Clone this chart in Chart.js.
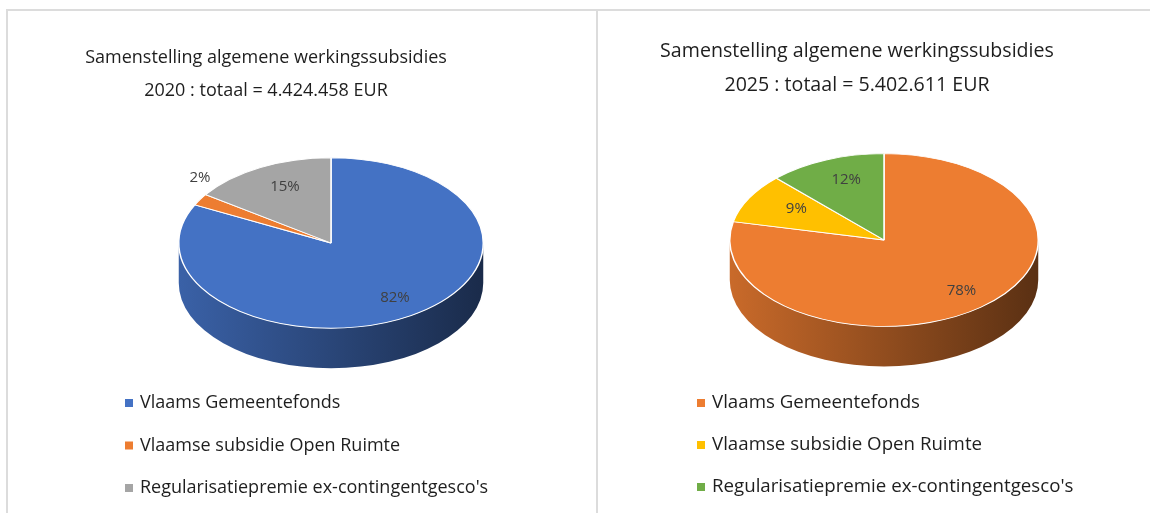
<!DOCTYPE html>
<html>
<head>
<meta charset="utf-8">
<script src="https://cdn.jsdelivr.net/npm/chart.js@4.4.1/dist/chart.umd.min.js"></script>
<style>
  body { margin: 0; background: #fff; width: 1150px; height: 513px; overflow: hidden; position: relative; }
  .panel { position: absolute; top: 9px; bottom: 0; border-top: 2px solid #dcdcdc; border-left: 2px solid #dcdcdc; }
  #p1 { left: 6px; width: 589px; }
  #p2 { left: 596px; right: 0; }
  canvas { position: absolute; left: 0; top: 0; }
</style>
</head>
<body>
<div class="panel" id="p1"><canvas id="chart2020" width="589" height="502"></canvas></div>
<div class="panel" id="p2"><canvas id="chart2025" width="552" height="502"></canvas></div>
<script>
var categories = ['Vlaams Gemeentefonds', 'Vlaamse subsidie Open Ruimte', "Regularisatiepremie ex-contingentgesco's"];
var values2020 = [3645753, 97338, 681367];
var values2025 = [4235647, 502443, 664521];
var colors2020 = ['#4472C4', '#ED7D31', '#A5A5A5'];
var colors2025 = ['#ED7D31', '#FFC000', '#70AD47'];
var titleText = 'Samenstelling algemene werkingssubsidies';

var squash = 0.56;   // vertical flattening of the pie
var depth = 40;      // height of the pie side

function sum(arr) { return arr.reduce((a, b) => a + b, 0); }
function formatEUR(n) { return String(n).replace(/\B(?=(\d{3})+(?!\d))/g, '.'); }

function shade(hex, f) {
  var n = parseInt(hex.slice(1), 16);
  var r = Math.round(((n >> 16) & 255) * f);
  var g = Math.round(((n >> 8) & 255) * f);
  var b = Math.round((n & 255) * f);
  return 'rgb(' + r + ',' + g + ',' + b + ')';
}

// fake 3d: draw the side, squash the pie, then put the texts on top
var pie3d = {
  id: 'pie3d',
  beforeDatasetsDraw(chart) {
    var ctx = chart.ctx;
    var arcs = chart.getDatasetMeta(0).data;
    var colors = chart.data.datasets[0].backgroundColor;
    ctx.save();
    arcs.forEach((arc, i) => {
      var p = arc.getProps(['x', 'y', 'startAngle', 'endAngle', 'outerRadius'], true);
      var a0 = Math.max(p.startAngle, 0), a1 = Math.min(p.endAngle, Math.PI);
      if (a1 <= a0) return;
      var rx = p.outerRadius, ry = rx * squash;
      var grad = ctx.createLinearGradient(p.x - rx, 0, p.x + rx, 0);
      grad.addColorStop(0, shade(colors[i], 0.85));
      grad.addColorStop(1, shade(colors[i], 0.38));
      ctx.beginPath();
      ctx.ellipse(p.x, p.y, rx, ry, 0, a0, a1);
      ctx.ellipse(p.x, p.y + depth, rx, ry, 0, a1, a0, true);
      ctx.closePath();
      ctx.fillStyle = grad;
      ctx.fill();
    });
    ctx.restore();
    var c = arcs[0];
    ctx.save();
    ctx.translate(c.x, c.y);
    ctx.scale(1, squash);
    ctx.translate(-c.x, -c.y);
  },
  afterDatasetsDraw(chart) {
    var ctx = chart.ctx;
    ctx.restore();
    var arcs = chart.getDatasetMeta(0).data;
    var vals = chart.data.datasets[0].data;
    var total = sum(vals);
    ctx.save();
    ctx.font = '15px "Open Sans"';
    ctx.fillStyle = '#404040';
    ctx.textAlign = 'center';
    ctx.textBaseline = 'middle';
    arcs.forEach((arc, i) => {
      var p = arc.getProps(['x', 'y', 'startAngle', 'endAngle', 'outerRadius'], true);
      var m = (p.startAngle + p.endAngle) / 2;
      var pct = Math.round(vals[i] / total * 100);
      var x, y;
      if (pct < 5) {
        x = p.x + Math.cos(m) * p.outerRadius;
        y = p.y + Math.sin(m) * p.outerRadius * squash - 22;
      } else {
        // the back half looks smaller in the original perspective
        var f = Math.sin(m) < 0 ? 0.65 : 0.8;
        x = p.x + Math.cos(m) * p.outerRadius * f;
        y = p.y + Math.sin(m) * p.outerRadius * squash * 0.75;
      }
      ctx.fillText(pct + '%', x, y);
    });
    ctx.restore();
  },
  afterDraw(chart, args, opts) {
    var ctx = chart.ctx;
    ctx.save();
    ctx.fillStyle = '#1e1e1e';
    ctx.textAlign = 'center';
    ctx.textBaseline = 'alphabetic';
    ctx.font = opts.titleSize + 'px "Open Sans"';
    opts.title.forEach((line, i) => ctx.fillText(line, opts.titleX, opts.titleY[i]));
    var colors = chart.data.datasets[0].backgroundColor;
    ctx.font = opts.legendSize + 'px "Open Sans"';
    ctx.textAlign = 'left';
    ctx.textBaseline = 'middle';
    chart.data.labels.forEach((lab, i) => {
      var y = opts.legendY + i * opts.legendGap;
      ctx.fillStyle = colors[i];
      ctx.fillRect(opts.legendX, y - 4, 8, 8);
      ctx.fillStyle = '#1e1e1e';
      ctx.fillText(lab, opts.legendX + 15, y);
    });
    ctx.restore();
  }
};

function makePie(id, values, colors, year, pad, textOpts) {
  textOpts.title = [titleText, year + ' : totaal = ' + formatEUR(sum(values)) + ' EUR'];
  return new Chart(document.getElementById(id).getContext('2d'), {
    type: 'pie',
    data: {
      labels: categories,
      datasets: [{
        data: values,
        backgroundColor: colors,
        borderColor: '#ffffff',
        borderWidth: 1.5
      }]
    },
    options: {
      responsive: false,
      animation: false,
      events: [],
      layout: { padding: pad },
      plugins: {
        legend: { display: false },
        tooltip: { enabled: false },
        pie3d: textOpts
      }
    },
    plugins: [pie3d]
  });
}

makePie('chart2020', values2020, colors2020, 2020,
  { left: 170, right: 113, top: 79, bottom: 117 },
  { titleX: 258, titleY: [52, 85], titleSize: 18, legendX: 117, legendY: 392, legendGap: 42.5, legendSize: 18 });

makePie('chart2025', values2025, colors2025, 2025,
  { left: 131, right: 111, top: 74, bottom: 118 },
  { titleX: 259, titleY: [46, 80], titleSize: 19.6, legendX: 99, legendY: 392, legendGap: 42, legendSize: 18.7 });
</script>
</body>
</html>
